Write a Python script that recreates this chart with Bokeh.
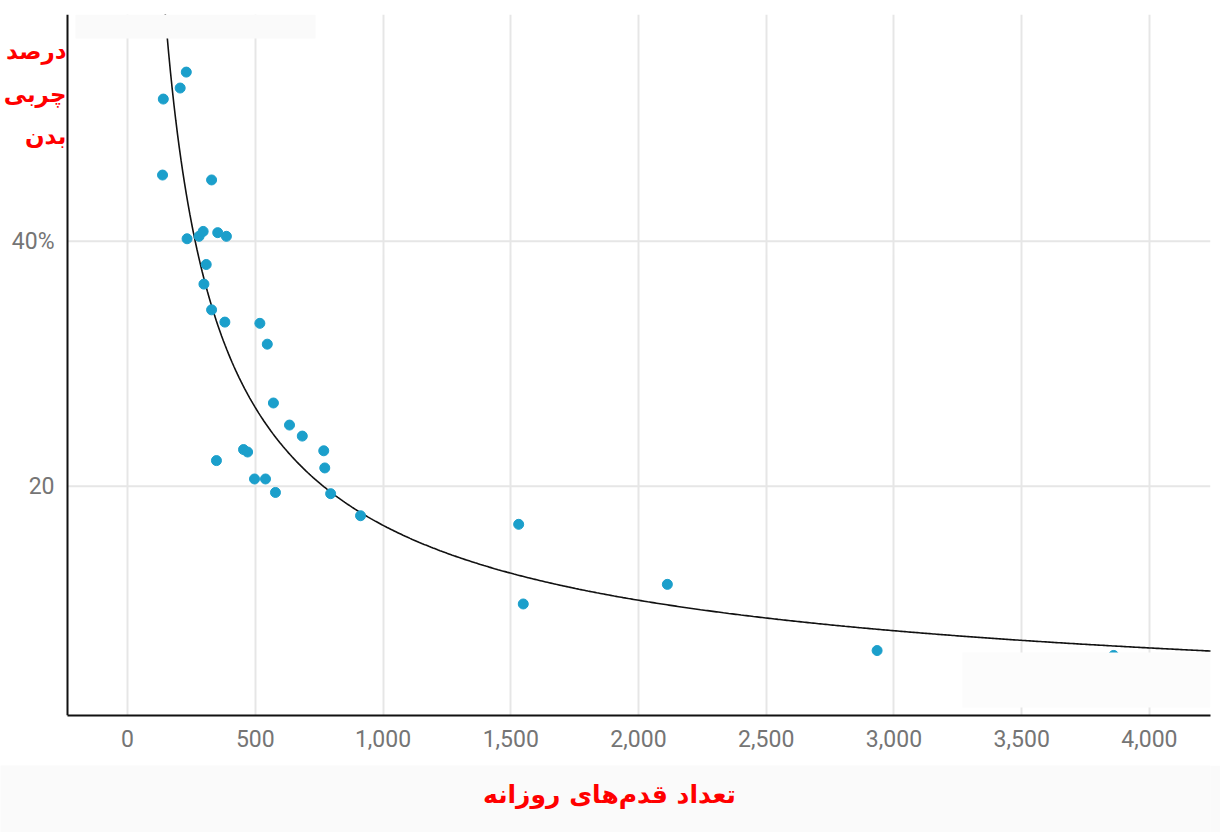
import numpy as np
from bokeh.plotting import figure
from bokeh.models import FixedTicker, NumeralTickFormatter, Label, BoxAnnotation, Range1d
from bokeh.layouts import column
from bokeh.embed import file_html
from bokeh.resources import INLINE

# ---- data ----
daily_steps = [230, 206, 140, 137, 329, 233, 280, 296, 353, 387, 308, 299, 329, 381,
               518, 547, 571, 634, 684, 454, 470, 768, 772, 348, 497, 540, 579, 795,
               912, 1531, 1549, 2113, 2934, 3860]
body_fat = [53.8, 52.5, 51.6, 45.4, 45.0, 40.2, 40.4, 40.8, 40.7, 40.4, 38.1, 36.5, 34.4, 33.4,
            33.3, 31.6, 26.8, 25.0, 24.1, 23.0, 22.8, 22.9, 21.5, 22.1, 20.6, 20.6, 19.5, 19.4,
            17.6, 16.9, 10.4, 12.0, 6.6, 6.2]
# power trendline y = a * x^b
trend_a = 1520.0
trend_b = -0.652
x_ticks = [0, 500, 1000, 1500, 2000, 2500, 3000, 3500, 4000]
y_ticks = [20, 40]
y_tick_labels = {20: "20", 40: "40%"}
x_title = "تعداد قدم‌های روزانه"
y_title_lines = ["درصد", "چربی", "بدن"]

# ranges: the value axis sits at X_AXIS; the frame extends left of it to the page edge
X_AXIS, X1 = -235.0, 4239.0
Y0, Y1 = 1.3, 58.5
FRAME_W, FRAME_H = 1210, 701
AXIS_PX = 67
X_START = X_AXIS - AXIS_PX * (X1 - X_AXIS) / (FRAME_W - AXIS_PX)

W = 1220
H_MAIN = 765
H_BAND = 67

p = figure(width=W, height=H_MAIN, output_backend="svg", toolbar_location=None,
           x_range=Range1d(X_START, X1), y_range=Range1d(Y0, Y1),
           min_border_left=0, min_border_right=W - FRAME_W, min_border_top=14,
           min_border_bottom=H_MAIN - 14 - FRAME_H)
p.outline_line_color = None
p.background_fill_color = "white"
p.border_fill_color = "white"

# grid: vertical lines from the x ticker, horizontal lines start at the value axis
p.xgrid.ticker = FixedTicker(ticks=x_ticks)
p.xgrid.grid_line_color = "#e6e6e6"
p.xgrid.grid_line_width = 2
p.ygrid.visible = False
p.segment(x0=[X_AXIS] * len(y_ticks), x1=[X1] * len(y_ticks), y0=y_ticks, y1=y_ticks,
          line_color="#e6e6e6", line_width=2, level="underlay")

# axes
for ax in (p.xaxis[0], p.yaxis[0]):
    ax.axis_line_color = "#111111"
    ax.axis_line_width = 2
    ax.major_tick_line_color = None
    ax.minor_tick_line_color = None
    ax.major_tick_in = 0
    ax.major_tick_out = 0
    ax.major_label_text_font = "Roboto"
    ax.major_label_text_font_size = "23px"
    ax.major_label_text_color = "#757575"
p.xaxis.ticker = FixedTicker(ticks=x_ticks)
p.xaxis.formatter = NumeralTickFormatter(format="0,0")
p.xaxis.major_label_standoff = 14
p.xaxis.bounds = (X_AXIS, X1)
p.yaxis.ticker = FixedTicker(ticks=y_ticks)
p.yaxis.major_label_overrides = y_tick_labels
p.yaxis.major_label_standoff = 13
p.yaxis.fixed_location = X_AXIS

# trendline
xs = np.linspace(120, X1 + 10, 600)
ys = trend_a * xs ** trend_b
p.line(xs, ys, line_color="#111111", line_width=1.6)

# points
p.scatter(daily_steps, body_fat, size=10, fill_color="#1b9fcb", line_color="#1b9fcb")

# helper: convert reference pixel positions to data units (decorations only)
def px_x(px):
    return X_START + px * (X1 - X_START) / FRAME_W

def px_y(py):
    return Y1 - (py - 14) * (Y1 - Y0) / FRAME_H

# cover boxes seen in the reference
p.add_layout(BoxAnnotation(left=px_x(75), right=px_x(315), top=Y1, bottom=px_y(38),
                           fill_color="#fafafa", fill_alpha=1, line_color=None))
p.add_layout(BoxAnnotation(left=px_x(962), right=X1, top=px_y(652), bottom=px_y(707),
                           fill_color="#fcfcfc", fill_alpha=1, line_color=None))

# y title (three lines, red, right aligned at the value axis)
for line_text, base in zip(y_title_lines, [50, 93, 135]):
    p.add_layout(Label(x=X_AXIS, y=px_y(base), x_offset=-1, text=line_text, text_align="right",
                       text_baseline="alphabetic", text_color="red",
                       text_font="DejaVu Sans", text_font_style="bold",
                       text_font_size="23px"))

# bottom band with x title
band = figure(width=W, height=H_BAND, output_backend="svg", toolbar_location=None,
              x_range=Range1d(0, W), y_range=Range1d(0, H_BAND), min_border=0)
band.axis.visible = False
band.grid.visible = False
band.outline_line_color = None
band.background_fill_color = "#fafafa"
band.border_fill_color = "#fafafa"
band.add_layout(Label(x=614, y=38, text=x_title, text_align="center", text_baseline="middle",
                      text_color="red", text_font="DejaVu Sans", text_font_style="bold",
                      text_font_size="25px"))

layout = column(p, band, spacing=0)
open("out.html", "w").write(file_html(layout, INLINE))
